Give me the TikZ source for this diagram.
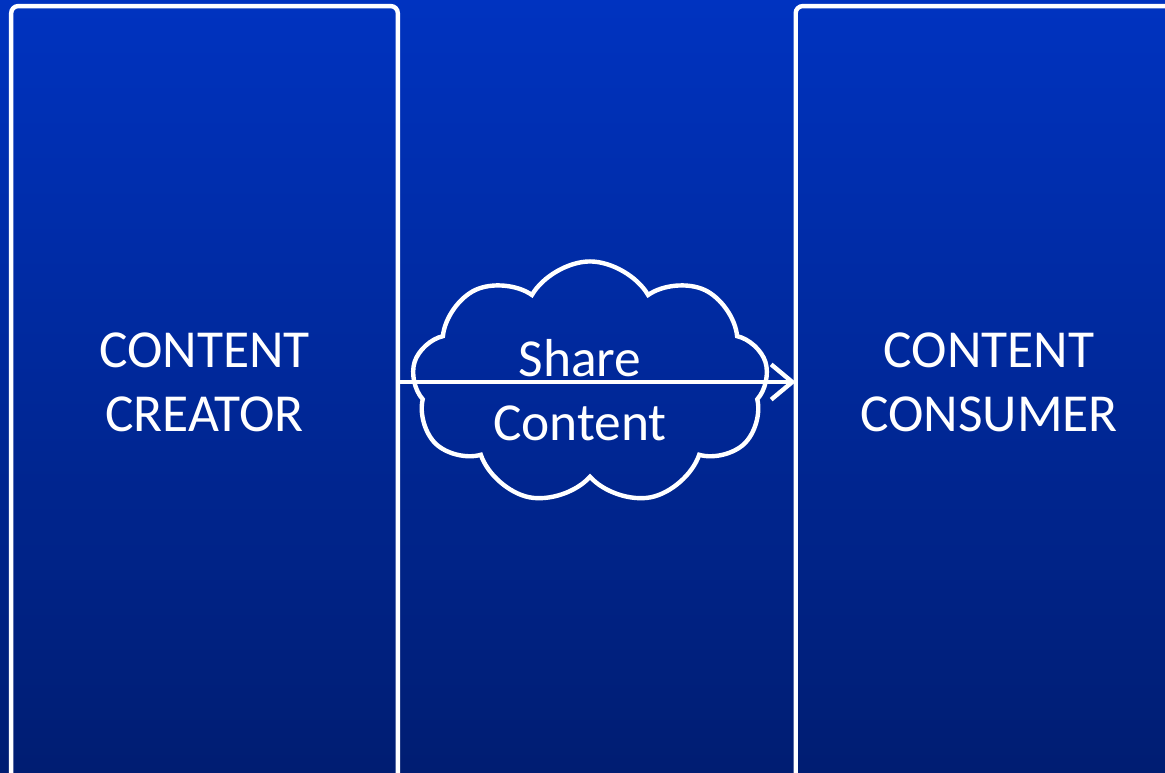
\documentclass[tikz,border=0pt]{standalone}
\usepackage{fontspec}
\setmainfont{Carlito}
\usetikzlibrary{shapes.symbols,arrows.meta,positioning}
\definecolor{slidetop}{RGB}{0,51,192}
\definecolor{slidebottom}{RGB}{0,29,114}
\tikzset{
	panel/.style={minimum width=3.85cm, minimum height=7.5cm, text=white, align=center, font=\fontsize{15.2}{18.2}\selectfont},
	edge/.style={white, line width=1.25pt},
}
\begin{document}
\begin{tikzpicture}[x=0.01cm, y=-0.01cm]
			\shade[top color=slidetop, bottom color=slidebottom] (0,0) rectangle (1165,772);
			\clip (0,0) rectangle (1165,772);
			\node[panel] (creator) at (204.5,382) {CONTENT\\CREATOR};
			\node[panel] (consumer) at (989,382) {CONTENT\\CONSUMER};
			\draw[edge, rounded corners=2pt] ([yshift=-1cm]creator.south west) -- (creator.north west) -- (creator.north east) -- ([yshift=-1cm]creator.south east);
			\draw[edge, rounded corners=2pt] ([yshift=-1cm]consumer.south west) -- (consumer.north west) -- (consumer.north east) -- ([yshift=-1cm]consumer.south east);
			\node[cloud, cloud puffs=9, cloud puff arc=120, draw, edge, minimum width=3.56cm, minimum height=2.43cm] (cloud) at (590,383) {};
			\node[text=white, align=center, font=\fontsize{15.2}{18.2}\selectfont] (cloudtext) at (580,390) {Share\\Content};
			\draw[edge, -{Straight Barb[length=6pt,width=10pt]}] (creator.east) -- (consumer.west);
	\end{tikzpicture}
\end{document}
